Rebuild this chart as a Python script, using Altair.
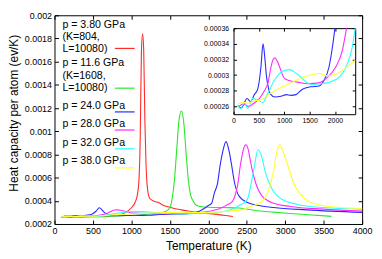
import altair as alt
import pandas as pd

# ---------------- data ----------------
series_labels = ["p = 3.80 GPa", "p = 11.6 GPa", "p = 24.0 GPa",
                 "p = 28.0 GPa", "p = 32.0 GPa", "p = 38.0 GPa"]
legend_lines = [["p = 3.80 GPa", "(K=804,", "L=10080)"],
                ["p = 11.6 GPa", "(K=1608,", "L=10080)"],
                ["p = 24.0 GPa"], ["p = 28.0 GPa"], ["p = 32.0 GPa"], ["p = 38.0 GPa"]]
colors = ["#ff2a2a", "#2ae82a", "#2a2aff", "#ff2aff", "#2affff", "#ffff2a"]

x_ticks = [0, 500, 1000, 1500, 2000, 2500, 3000, 3500, 4000]
y_ticks = [0.0002, 0.0004, 0.0006, 0.0008, 0.001, 0.0012, 0.0014, 0.0016, 0.0018, 0.002]
inset_x_ticks = [0, 500, 1000, 1500, 2000]
inset_y_ticks = [0.00026, 0.00028, 0.0003, 0.00032, 0.00034, 0.00036]

red_T = [120, 300, 500, 700, 800, 900, 1000, 1050, 1080, 1100, 1115, 1130, 1145, 1160,
         1175, 1190, 1210, 1240, 1300, 1350, 1420, 1480, 1560, 1650, 1760, 1865, 1970,
         2080, 2200, 2320]
red_C = [0.000257, 0.00026, 0.000262, 0.000266, 0.000271, 0.00029, 0.00034, 0.00039,
         0.00046, 0.0006, 0.00095, 0.00168, 0.00184, 0.0017, 0.0011, 0.00072, 0.0005,
         0.00042, 0.000395, 0.000385, 0.00036, 0.000348, 0.000333, 0.000322, 0.00031,
         0.0003, 0.000292, 0.000285, 0.000275, 0.000265]

green_T = [120, 300, 500, 700, 900, 1100, 1300, 1400, 1450, 1500, 1530, 1560, 1590, 1620,
           1650, 1680, 1710, 1740, 1770, 1800, 1830, 1870, 1920, 2000, 2200, 2400, 2640,
           2850, 3060, 3300, 3600]
green_C = [0.00027, 0.000268, 0.000265, 0.000268, 0.000272, 0.000278, 0.00029, 0.0003,
           0.00031, 0.00034, 0.00042, 0.00058, 0.00085, 0.0011, 0.001175, 0.00108, 0.00082,
           0.00058, 0.00045, 0.0004, 0.00037, 0.000355, 0.000348, 0.000345, 0.000342,
           0.000338, 0.000314, 0.000302, 0.000291, 0.00028, 0.000266]

blue_T = [85, 150, 270, 333, 410, 477, 540, 582, 620, 647, 690, 725, 817, 935, 1046, 1130,
          1230, 1360, 1523, 1686, 1784, 1882, 1960, 2000, 2040, 2080, 2120, 2150, 2190,
          2230, 2270, 2300, 2340, 2400, 2510, 2640, 2850, 3280, 4000]
blue_C = [0.000261, 0.000258, 0.00027, 0.000266, 0.000275, 0.000282, 0.00031, 0.00034,
          0.00032, 0.0003, 0.000283, 0.000276, 0.000272, 0.000273, 0.000275, 0.000274,
          0.000275, 0.000282, 0.000285, 0.000286, 0.000293, 0.00031, 0.00034, 0.00036,
          0.000375, 0.00047, 0.00055, 0.00069, 0.00083, 0.00091, 0.00083, 0.00072,
          0.00056, 0.00044, 0.000385, 0.000362, 0.000342, 0.000322, 0.0003]

magenta_T = [85, 200, 300, 400, 510, 608, 680, 738, 780, 817, 860, 900, 1000, 1098, 1261,
             1457, 1686, 1850, 2013, 2144, 2229, 2315, 2350, 2380, 2420, 2455, 2487, 2520,
             2551, 2615, 2701, 2851, 3066, 3494, 4000]
magenta_C = [0.000259, 0.000263, 0.00026, 0.000264, 0.00027, 0.00028, 0.00029, 0.00031,
             0.00032, 0.000322, 0.000318, 0.000312, 0.000296, 0.000293, 0.000291, 0.000289,
             0.00029, 0.000297, 0.00031, 0.000331, 0.00036, 0.000395, 0.00045, 0.00053,
             0.00072, 0.00084, 0.000882, 0.00084, 0.00073, 0.000556, 0.000441, 0.000379,
             0.000351, 0.000328, 0.000311]

cyan_T = [85, 137, 216, 281, 379, 477, 575, 673, 804, 967, 1098, 1261, 1457, 1588, 1719,
          1850, 1980, 2111, 2242, 2340, 2400, 2460, 2508, 2551, 2600, 2645, 2690, 2744,
          2830, 2958, 3151, 3494, 4000]
cyan_C = [0.000262, 0.000257, 0.000265, 0.000257, 0.00027, 0.000268, 0.000265, 0.000276,
          0.000293, 0.000305, 0.000307, 0.000301, 0.00029, 0.000288, 0.000289, 0.00029,
          0.000293, 0.000299, 0.000314, 0.000335, 0.00036, 0.00038, 0.000413, 0.000527,
          0.0007, 0.00084, 0.00079, 0.000641, 0.000499, 0.000413, 0.000371, 0.000342,
          0.000328]

yellow_T = [85, 180, 280, 410, 510, 608, 738, 935, 1131, 1327, 1523, 1686, 1850, 2013,
            2176, 2307, 2400, 2551, 2701, 2787, 2851, 2890, 2928, 2970, 3023, 3109, 3237,
            3408, 3708, 4000]
yellow_C = [0.000263, 0.000265, 0.000264, 0.000267, 0.000268, 0.000271, 0.000277, 0.000284,
            0.00029, 0.000296, 0.0003, 0.000302, 0.000299, 0.000301, 0.000307, 0.000314,
            0.000319, 0.000351, 0.000399, 0.000499, 0.000669, 0.00082, 0.000882, 0.00083,
            0.000726, 0.000556, 0.000428, 0.000371, 0.000342, 0.000334]

all_T = [red_T, green_T, blue_T, magenta_T, cyan_T, yellow_T]
all_C = [red_C, green_C, blue_C, magenta_C, cyan_C, yellow_C]

rows = []
for name, Ts, Cs in zip(series_labels, all_T, all_C):
    for t, c in zip(Ts, Cs):
        rows.append({"series": name, "T": t, "C": c})
df = pd.DataFrame(rows)

inset_series = series_labels[2:]
df_in = df[df["series"].isin(inset_series) & (df["T"] <= 2400) & (df["C"] <= 0.00036 + 1e-12)]

# ---------------- layout ----------------
W, H = 311, 211
INS_L, INS_R, INS_T, INS_B = 181, 304, 13, 100
FONT = "Liberation Sans"

legend_text_y = [[10, 22, 34], [48, 61, 73.5], [92], [109.5], [129.3], [147.7]]
legend_line_y = [33.5, 73.7, 97.7, 116, 135, 154.3]

text_rows = []
for lines, ys in zip(legend_lines, legend_text_y):
    for txt, yy in zip(lines, ys):
        text_rows.append({"text": txt, "lx": 8, "ly": yy})
legend_text_df = pd.DataFrame(text_rows)
legend_rule_df = pd.DataFrame({"series": series_labels, "x1": [61] * 6, "x2": [81] * 6,
                               "y": legend_line_y})

color_scale = alt.Scale(domain=series_labels, range=colors)
x_main = alt.Scale(domain=[0, 4000], nice=False, zero=False)
y_main = alt.Scale(domain=[0.0002, 0.002], nice=False, zero=False)
x_ins = alt.Scale(domain=[0, 2400], range=[INS_L, INS_R], nice=False, zero=False)
y_ins = alt.Scale(domain=[0.00025, 0.00036], range=[INS_B, INS_T], nice=False, zero=False)


def line_layer(data, xs, ys, xa, ya, visible=True):
    return alt.Chart(data).mark_line(
        strokeWidth=1.1, interpolate="monotone", opacity=1 if visible else 0
    ).encode(
        x=alt.X("T:Q", scale=xs, axis=xa),
        y=alt.Y("C:Q", scale=ys, axis=ya),
        color=alt.Color("series:N", scale=color_scale, legend=None),
    )


common = dict(grid=False, title=None)

# main axes
mx_lab = alt.Axis(orient="bottom", values=x_ticks, format="d", ticks=False, domain=False,
                  labelFontSize=9, labelPadding=3, labelFlush=False, labelOverlap=False,
                  grid=False, title="Temperature (K)", titleFontSize=12, titleY=22,
                  titleBaseline="middle")
my_lab = alt.Axis(orient="left", values=y_ticks, format="~g", ticks=False, domain=False,
                  labelFontSize=9, labelPadding=3, labelOverlap=False, grid=False,
                  title="Heat capacity per atom (ev/K)", titleFontSize=12, titleX=-41.5,
                  titleY=98.5, titleBaseline="middle")
mx_in_bottom = alt.Axis(orient="top", offset=-H, values=x_ticks, labels=False, domain=False,
                        tickSize=4, **common)
mx_in_top = alt.Axis(orient="bottom", offset=-H, values=x_ticks, labels=False, domain=False,
                     tickSize=4, **common)
my_in_left = alt.Axis(orient="right", offset=-W, values=y_ticks, labels=False, domain=False,
                      tickSize=4, **common)
my_in_right = alt.Axis(orient="left", offset=-W, values=y_ticks, labels=False, domain=False,
                       tickSize=4, **common)

# inset axes
ix_lab = alt.Axis(orient="bottom", offset=INS_B - H, values=inset_x_ticks, format="d",
                  ticks=False, domain=True, labelFontSize=7, labelPadding=2,
                  labelFlush=False, labelOverlap=False, **common)
iy_lab = alt.Axis(orient="left", offset=-INS_L, values=inset_y_ticks, format="~g",
                  ticks=False, domain=True, labelFontSize=7, labelPadding=5,
                  labelOverlap=False, **common)
ix_in_bottom = alt.Axis(orient="top", offset=-INS_B, values=inset_x_ticks, labels=False,
                        domain=False, tickSize=3, **common)
ix_in_top = alt.Axis(orient="bottom", offset=INS_T - H, values=inset_x_ticks, labels=False,
                     domain=True, tickSize=3, **common)
iy_in_left = alt.Axis(orient="right", offset=INS_L - W, values=inset_y_ticks, labels=False,
                      domain=False, tickSize=3, **common)
iy_in_right = alt.Axis(orient="left", offset=-INS_R, values=inset_y_ticks, labels=False,
                       domain=True, tickSize=3, **common)

main = line_layer(df, x_main, y_main, mx_lab, my_lab)
main_t1 = line_layer(df, x_main, y_main, mx_in_bottom, my_in_left, visible=False)
main_t2 = line_layer(df, x_main, y_main, mx_in_top, my_in_right, visible=False)
inset = line_layer(df_in, x_ins, y_ins, ix_lab, iy_lab)
inset_t1 = line_layer(df_in, x_ins, y_ins, ix_in_bottom, iy_in_left, visible=False)
inset_t2 = line_layer(df_in, x_ins, y_ins, ix_in_top, iy_in_right, visible=False)

legend_text = alt.Chart(legend_text_df).mark_text(
    align="left", baseline="middle", font=FONT, fontSize=10.7, color="black"
).encode(
    x=alt.X("lx:Q", scale=None),
    y=alt.Y("ly:Q", scale=None),
    text="text:N",
)
legend_rules = alt.Chart(legend_rule_df).mark_rule(strokeWidth=1.2).encode(
    x=alt.X("x1:Q", scale=None),
    x2="x2:Q",
    y=alt.Y("y:Q", scale=None),
    color=alt.Color("series:N", scale=color_scale, legend=None),
)

chart = alt.layer(
    main, main_t1, main_t2, inset, inset_t1, inset_t2, legend_text, legend_rules
).resolve_scale(
    x="independent", y="independent"
).resolve_axis(
    x="independent", y="independent"
).properties(
    width=W, height=H,
    autosize=alt.AutoSizeParams(type="none"),
    padding={"left": 47, "top": 6, "right": 12, "bottom": 31},
    background="white",
).configure_view(
    stroke="black", strokeWidth=1
).configure_axis(
    labelFont=FONT, titleFont=FONT, labelColor="black", titleColor="black",
    tickColor="black", domainColor="black", titleFontWeight="normal",
    tickWidth=1, domainWidth=1
)

chart.save("out.html", embed_options={"renderer": "svg", "actions": False})
